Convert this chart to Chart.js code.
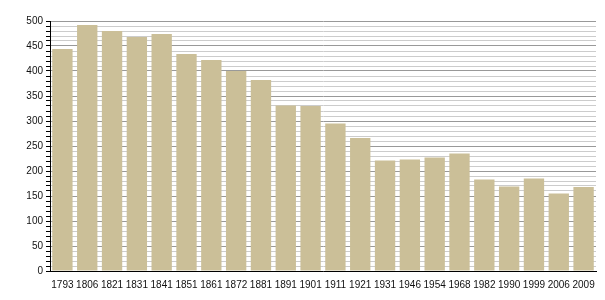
<!DOCTYPE html>
<html>
<head>
<meta charset="utf-8">
<script src="https://cdn.jsdelivr.net/npm/chart.js@4"></script>
<style>
  body { margin: 0; background: #fff; }
  #wrap { width: 605px; height: 300px; }
</style>
</head>
<body>
<div id="wrap"><canvas id="popChart"></canvas></div>
<script>
var years = ['1793', '1806', '1821', '1831', '1841', '1851', '1861', '1872', '1881', '1891', '1901',
             '1911', '1921', '1931', '1946', '1954', '1968', '1982', '1990', '1999', '2006', '2009'];
var population = [444, 492, 480, 468, 474, 434, 422, 400, 382, 331, 330,
                  295, 266, 221, 223, 227, 235, 183, 169, 185, 155, 168];
var yMin = 0;
var yMax = 500;
var minorStep = 10;
var majorStep = 50;

var ctx = document.getElementById('popChart').getContext('2d');
var chart = new Chart(ctx, {
  type: 'bar',
  data: {
    labels: years,
    datasets: [{
      data: population,
      backgroundColor: '#cbbf98',
      borderWidth: 0,
      barPercentage: 0.82,
      categoryPercentage: 1
    }]
  },
  options: {
    responsive: true,
    maintainAspectRatio: false,
    animation: false,
    layout: { padding: { left: 0, right: 9, top: 21, bottom: 0 } },
    plugins: { legend: { display: false }, tooltip: { enabled: false } },
    scales: {
      x: {
        grid: { display: false },
        border: { color: '#000', width: 1 },
        ticks: { color: '#111', font: { family: 'Liberation Sans', size: 10 }, maxRotation: 0, autoSkip: false, padding: 0 },
        afterFit: function (scale) { scale.height = 29; }
      },
      y: {
        min: yMin,
        max: yMax,
        border: { color: '#000', width: 1 },
        grid: {
          color: function (c) { return c.tick.value % majorStep === 0 ? '#999' : '#ccc'; },
          tickColor: '#000',
          tickLength: 4
        },
        ticks: {
          stepSize: minorStep,
          autoSkip: false,
          color: '#111',
          font: { family: 'Liberation Sans', size: 10 },
          padding: 3,
          callback: function (v) { return v % majorStep === 0 ? v : ''; }
        },
        afterFit: function (scale) { scale.width = 50; }
      }
    }
  }
});
</script>
</body>
</html>
